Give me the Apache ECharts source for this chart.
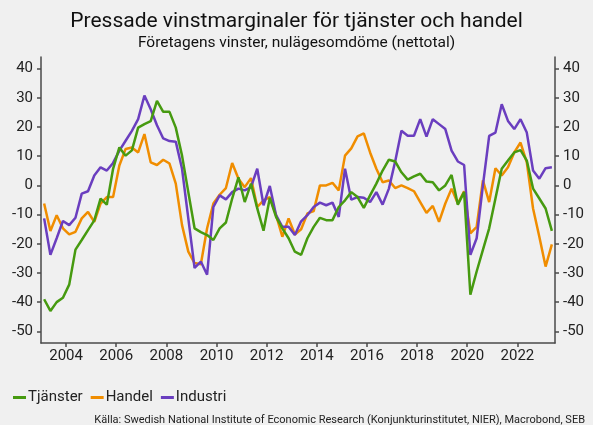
<!DOCTYPE html>
<html>
<head>
<meta charset="utf-8">
<script src="https://cdn.jsdelivr.net/npm/echarts@6/dist/echarts.min.js"></script>
<style>
  html, body { margin: 0; padding: 0; background: #f0f0f0; }
  #chart { width: 593px; height: 425px; }
</style>
</head>
<body>
<div id="chart"></div>
<script>
// kvartal 2003Q1 .. 2023Q2
const startYear = 2003
const quarterCount = 82

const tjanster = [
  -39, -43, -40, -38.5, -34, -22, -18.7, -15.3, -12, -4.5, -6.6, 5.7, 13, 10.2, 12, 19.8, 21, 22, 29, 25.2, 25.2,
  19.8, 10.2, -2.3, -14.7, -16, -17, -18.7, -14.7, -12.7, -4.5, 2.8, -5.7, 0.6, -7.9, -15.5, -4.3, -10.8, -14.7, -18.1, -22.7, -23.8,
  -18.1, -14.2, -11.1, -11.9, -11.9, -7.4, -5.1, -2.3, -4, -7.7, -3.4, 0.6, 5.1, 8.8, 8.2, 4.5, 2, 3.1, 4, 1.3,
  1.1, -1.7, 0, 3.6, -6.6, -2.3, -37.4, -29.5, -22.1, -14.7, -4.5, 5.7, 8.5, 11.3, 12.1, 8.5, -1.1, -4.5, -7.9, -15.6
]

const handel = [
  -6.2, -15.6, -10.2, -14.7, -16.8, -15.9, -11.3, -9.1, -12.5, -6.2, -4, -4, 6.8, 12.5, 13, 11.3, 17.6, 7.9, 7, 8.8, 7.5,
  0.6, -13.6, -22.7, -26.6, -27, -14.7, -6.2, -3.2, -0.9, 7.7, 2.3, -0.6, 2.5, -7.4, -5.1, -4, -10.2, -17.6, -11.3, -16.8, -15,
  -9.6, -8.8, 0, 0, 0.9, -1.7, 10.2, 12.7, 16.8, 17.8, 11.3, 5.7, 1.1, 1.7, -0.9, 0, -0.9, -2, -5.7, -9.4,
  -7, -12.5, -6.2, -1.1, -6.2, -2, -16.4, -14.2, 1.7, -5.7, 5.9, 3.4, 6.2, 11.3, 14.7, 7.9, -7.9, -17.6, -27.8, -20.2
]

const industri = [
  -11.3, -23.8, -18.1, -12.2, -13.6, -11.1, -2.8, -2, 3.4, 6.2, 5.1, 7.7, 11.9, 15.3, 18.7, 22.7, 30.8, 26.1, 20.6, 16.1, 15.2,
  15, 5.7, -11.3, -28.3, -26.1, -30.6, -7.4, -3.4, -4.8, -2.3, -1.1, -1.7, -0.6, 5.7, -6.8, -0.2, -10.2, -14.2, -14.2, -17, -12.3,
  -10.2, -7.4, -5.9, -6.8, -5.9, -10.8, 5.7, -4.9, -4, -4.2, -5.7, -2.3, -6.6, -1.1, 8.2, 18.7, 17, 17, 22.7, 16.7,
  22.7, 21, 19.3, 11.9, 8.2, 7, -23.8, -18.1, 0, 17, 18.1, 27.8, 22.1, 19.3, 22.7, 18.1, 5.1, 2.3, 5.9, 6.2
]

const yearTicks = [2004, 2006, 2008, 2010, 2012, 2014, 2016, 2018, 2020, 2022]
const valueTicks = [-50, -40, -30, -20, -10, 0, 10, 20, 30, 40]

// mitten av varje kvartal som decimalår
const quarters = []
for (let i = 0; i < quarterCount; i++) {
  quarters.push(startYear + 0.125 + i * 0.25)
}
const toPairs = (vals) => vals.map((v, i) => [quarters[i], v])

const chart = echarts.init(document.getElementById('chart'))

const axisColor = '#4a4a4a'
const fontFamily = 'Roboto, "Noto Sans", sans-serif'

const yAxisBase = {
  type: 'value',
  min: -54,
  max: 44,
  axisLine: { show: true, lineStyle: { color: axisColor, width: 1.5 } },
  axisTick: { show: true, customValues: valueTicks, length: 4, lineStyle: { color: axisColor, width: 1.5 } },
  axisLabel: { customValues: valueTicks, color: '#222', fontSize: 15, fontFamily: fontFamily, margin: 8 },
  splitLine: { show: false }
}

const option = {
  backgroundColor: '#f0f0f0',
  animation: false,
  title: {
    text: 'Pressade vinstmarginaler för tjänster och handel',
    subtext: 'Företagens vinster, nulägesomdöme (nettotal)',
    left: 'center',
    top: 6,
    itemGap: 3,
    textStyle: { fontSize: 21, fontWeight: 'normal', color: '#111', fontFamily: fontFamily },
    subtextStyle: { fontSize: 15.5, color: '#111', fontFamily: fontFamily }
  },
  grid: { left: 41, right: 38, top: 57, bottom: 82 },
  xAxis: {
    type: 'value',
    min: 2003,
    max: 2023.5,
    axisLine: { show: true, onZero: false, lineStyle: { color: axisColor, width: 1.5 } },
    axisTick: { show: true, customValues: yearTicks, length: 4, lineStyle: { color: axisColor, width: 1.5 } },
    axisLabel: {
      customValues: yearTicks,
      formatter: (v) => String(v),
      color: '#222', fontSize: 15, fontFamily: fontFamily, margin: 6
    },
    splitLine: { show: false }
  },
  yAxis: [
    Object.assign({}, yAxisBase, { position: 'left' }),
    Object.assign({}, yAxisBase, { position: 'right' })
  ],
  legend: {
    left: 8,
    top: 385,
    icon: 'rect',
    itemWidth: 13,
    itemHeight: 3,
    itemGap: 8,
    textStyle: { fontSize: 15, color: '#222', fontFamily: fontFamily, padding: [0, 0, 0, -3] },
    data: ['Tjänster', 'Handel', 'Industri']
  },
  graphic: [{
    type: 'text',
    right: 8,
    top: 415,
    style: {
      text: 'Källa: Swedish National Institute of Economic Research (Konjunkturinstitutet, NIER), Macrobond, SEB',
      fontSize: 11,
      fill: '#222',
      fontFamily: fontFamily
    }
  }],
  series: [
    {
      name: 'Tjänster',
      type: 'line',
      data: toPairs(tjanster),
      showSymbol: false,
      color: '#469a10',
      lineStyle: { width: 2.5 },
      z: 4
    },
    {
      name: 'Handel',
      type: 'line',
      data: toPairs(handel),
      showSymbol: false,
      color: '#f08d00',
      lineStyle: { width: 2.5 },
      z: 2
    },
    {
      name: 'Industri',
      type: 'line',
      data: toPairs(industri),
      showSymbol: false,
      color: '#6a3ebf',
      lineStyle: { width: 2.5 },
      z: 3
    }
  ]
}

chart.setOption(option)
</script>
</body>
</html>
